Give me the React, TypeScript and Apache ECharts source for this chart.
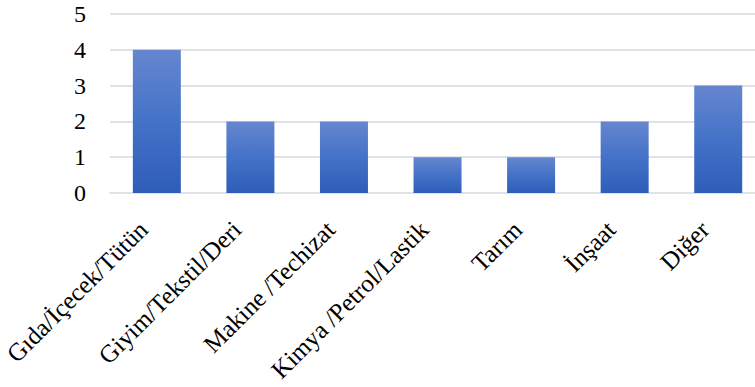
import React, { useEffect, useRef } from "react";
import * as echarts from "echarts";

const categories = [
  "Gıda/İçecek/Tütün",
  "Giyim/Tekstil/Deri",
  "Makine /Techizat",
  "Kimya /Petrol/Lastik",
  "Tarım",
  "İnşaat",
  "Diğer",
];
const values = [4, 2, 2, 1, 1, 2, 3];
const yTicks = [0, 1, 2, 3, 4, 5];

export default function App() {
  const ref = useRef<HTMLDivElement>(null);
  useEffect(() => {
    if (!ref.current) return;
    const chart = echarts.init(ref.current, null, { renderer: "svg" });
    const font = "'Liberation Serif', 'Times New Roman', serif";
    chart.setOption({
      animation: false,
      grid: { left: 109, right: 5, top: 14, bottom: 194, containLabel: false },
      xAxis: {
        type: "category",
        data: categories,
        axisLine: { show: true, lineStyle: { color: "#dfe2e9", width: 2 } },
        axisTick: { show: false },
        axisLabel: {
          rotate: 45,
          interval: 0,
          margin: 19,
          padding: [0, 19, 0, 0],
          color: "#000",
          fontFamily: font,
          fontSize: 25,
        },
      },
      yAxis: {
        type: "value",
        min: yTicks[0],
        max: yTicks[yTicks.length - 1],
        interval: 1,
        axisLine: { show: false },
        axisTick: { show: false },
        splitLine: { lineStyle: { color: "#dfe2e9", width: 2 } },
        axisLabel: {
          margin: 24,
          color: "#000",
          fontFamily: font,
          fontSize: 24,
        },
      },
      series: [
        {
          type: "bar",
          data: values,
          barWidth: 48,
          itemStyle: {
            color: new echarts.graphic.LinearGradient(0, 0, 0, 1, [
              { offset: 0, color: "#6686cf" },
              { offset: 0.5, color: "#4472c8" },
              { offset: 1, color: "#2e5db9" },
            ]),
          },
        },
      ],
    });
    return () => chart.dispose();
  }, []);
  return (
    <div
      style={{ position: "fixed", left: 0, top: 0, width: 755, height: 387, overflow: "hidden", background: "#fff" }}
    >
      <div ref={ref} style={{ width: 770, height: 387 }} />
    </div>
  );
}
